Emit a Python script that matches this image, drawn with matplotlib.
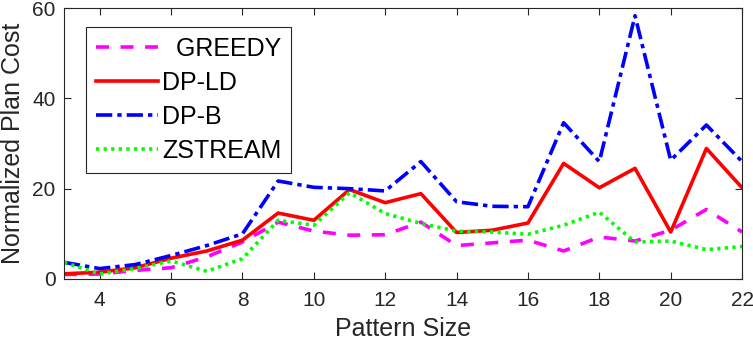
import matplotlib
matplotlib.use("Agg")
import matplotlib.pyplot as plt

plt.rcParams['font.family'] = ['Liberation Sans', 'DejaVu Sans']

# pattern sizes on the x axis
pattern_size = list(range(3, 23))

# normalized plan cost per algorithm
greedy = [1.0, 1.1, 1.9, 2.5, 4.9, 8.2, 12.6, 10.6, 9.7, 9.8, 12.6,
          7.4, 8.0, 8.6, 6.2, 9.3, 8.4, 10.8, 15.4, 10.4]
dp_ld = [1.15, 1.5, 2.5, 4.6, 6.2, 8.6, 14.6, 13.0, 19.8, 16.9, 18.9,
         10.3, 10.8, 12.4, 25.6, 20.2, 24.5, 10.4, 28.9, 20.2]
dp_b = [3.7, 2.3, 3.2, 5.2, 7.4, 10.0, 21.7, 20.3, 20.0, 19.5, 26.0,
        17.1, 16.1, 16.0, 34.6, 26.0, 58.3, 26.3, 34.1, 26.0]
zstream = [3.7, 1.1, 2.3, 4.0, 1.7, 4.5, 13.0, 11.9, 19.1, 14.5, 12.3,
           10.6, 10.4, 9.9, 11.9, 14.8, 8.2, 8.4, 6.5, 7.2]

labels = ['  GREEDY', 'DP-LD', 'DP-B', 'ZSTREAM']
x_ticks = list(range(4, 23, 2))
y_ticks = [0, 20, 40, 60]

fig = plt.figure(figsize=(7.53, 3.43), dpi=100)
ax = fig.add_axes([0.085, 0.1866, 0.9005, 0.79])

ax.plot(pattern_size, greedy, color=(1, 0, 1), lw=2.6, linestyle=(0, (3.6, 3.2)), label=labels[0])
ax.plot(pattern_size, dp_ld, color=(1, 0, 0), lw=2.6, linestyle='-', label=labels[1])
ax.plot(pattern_size, dp_b, color=(0, 0, 1), lw=2.6, linestyle=(0, (4.5, 1.4, 1.2, 1.4)), label=labels[2])
ax.plot(pattern_size, zstream, color=(0, 1, 0), lw=2.6, linestyle=(0, (0.9, 1.2)), label=labels[3])

ax.set_xlim(3, 22)
ax.set_ylim(0, 60)
ax.set_xticks(x_ticks)
ax.set_yticks(y_ticks)

dark = '#262626'
ax.tick_params(direction='in', top=True, right=True, length=5, width=0.8,
               labelsize=15, colors=dark)
ax.tick_params(axis='x', pad=9)
ax.tick_params(axis='y', pad=6)
for s in ax.spines.values():
    s.set_color(dark)
    s.set_linewidth(0.8)

ax.set_xlabel('Pattern Size', fontsize=18, color=dark, labelpad=5)
ax.set_ylabel('Normalized Plan Cost', fontsize=18, color=dark, labelpad=5)

leg = ax.legend(loc='upper left', bbox_to_anchor=(0.032, 0.93), fontsize=18,
                handlelength=2.5, handletextpad=0.15, labelspacing=0.4,
                borderpad=0.4, borderaxespad=0, fancybox=False,
                framealpha=1, edgecolor=dark)
leg.get_frame().set_linewidth(0.8)

fig.savefig('out.png', dpi=100)
